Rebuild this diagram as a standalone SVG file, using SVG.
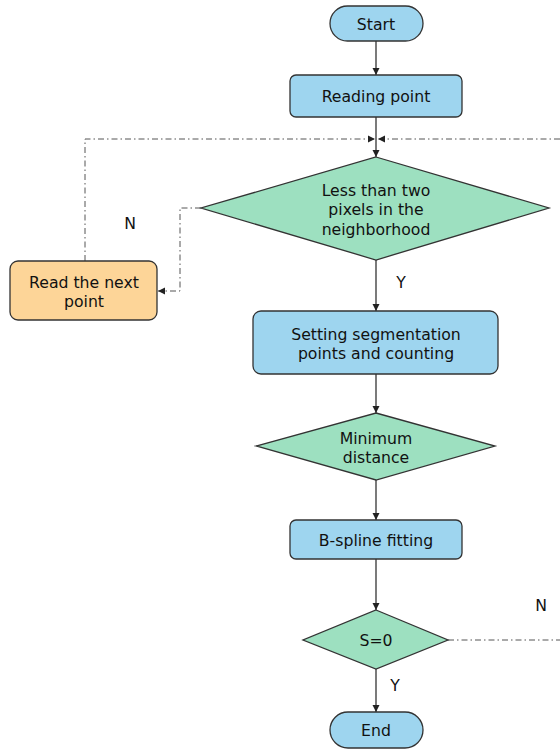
<svg xmlns="http://www.w3.org/2000/svg" width="560" height="749" viewBox="0 0 560 749">
<defs>
<style>
.blue{fill:#9ed5ef;stroke:#333;stroke-width:1.3}
.green{fill:#9de0c0;stroke:#333;stroke-width:1.3}
.orange{fill:#fdd598;stroke:#333;stroke-width:1.3}
text{font-family:"DejaVu Sans",Verdana,sans-serif;font-size:15.7px;fill:#111;text-anchor:middle}
.ln{fill:none;stroke:#333;stroke-width:1.3}
.dd{fill:none;stroke:#555;stroke-width:1;stroke-dasharray:6,3,1.5,3}
</style>
<marker id="ah" markerWidth="8" markerHeight="8" refX="7" refY="4" orient="auto" markerUnits="userSpaceOnUse">
<path d="M0,0.5 L7,4 L0,7.5 Z" fill="#222"/>
</marker>
</defs>
<g id="connectors">
<line class="ln" x1="376" y1="41" x2="376" y2="75" marker-end="url(#ah)"/>
<line class="ln" x1="376" y1="117" x2="376" y2="157" marker-end="url(#ah)"/>
<polyline class="dd" points="85,261 85,139 375,139" marker-end="url(#ah)"/>
<line class="dd" x1="560" y1="139" x2="378" y2="139" marker-end="url(#ah)"/>
<polyline class="dd" points="201,208 180,208 180,291 158,291" marker-end="url(#ah)"/>
<line class="ln" x1="376" y1="260" x2="376" y2="311" marker-end="url(#ah)"/>
<line class="ln" x1="376" y1="374" x2="376" y2="413" marker-end="url(#ah)"/>
<line class="ln" x1="376" y1="480" x2="376" y2="520" marker-end="url(#ah)"/>
<line class="ln" x1="376" y1="559" x2="376" y2="610" marker-end="url(#ah)"/>
<line class="dd" x1="448" y1="640" x2="560" y2="640"/>
<line class="ln" x1="376" y1="669" x2="376" y2="712" marker-end="url(#ah)"/>
<text x="130" y="229">N</text>
<text x="401" y="288">Y</text>
<text x="541" y="611">N</text>
<text x="395" y="691">Y</text>
</g>
<g id="start"><rect class="blue" x="330" y="6" width="93" height="35" rx="17.5"/><text x="376" y="29.5">Start</text></g>
<g id="reading"><rect class="blue" x="290" y="75" width="172" height="42" rx="6"/><text x="376" y="102">Reading point</text></g>
<g id="less"><polygon class="green" points="376,157 549,208 376,260 201,208"/><text x="376" y="195.5">Less than two</text><text x="376" y="215">pixels in the</text><text x="376" y="234.5">neighborhood</text></g>
<g id="readnext"><rect class="orange" x="10" y="261" width="147" height="59" rx="8"/><text x="84" y="287.5">Read the next</text><text x="84" y="307">point</text></g>
<g id="setting"><rect class="blue" x="253" y="311" width="245" height="63" rx="8"/><text x="376" y="339.5">Setting segmentation</text><text x="376" y="359">points and counting</text></g>
<g id="mindist"><polygon class="green" points="376,413 495,446 376,480 256,446"/><text x="376" y="443.5">Minimum</text><text x="376" y="463">distance</text></g>
<g id="bspline"><rect class="blue" x="290" y="520" width="172" height="39" rx="6"/><text x="376" y="545.5">B-spline fitting</text></g>
<g id="s0"><polygon class="green" points="376,610 448,640 376,669 303,640"/><text x="376" y="645.5">S=0</text></g>
<g id="end"><rect class="blue" x="330" y="712" width="93" height="36" rx="18"/><text x="376" y="735.5">End</text></g>
</svg>
